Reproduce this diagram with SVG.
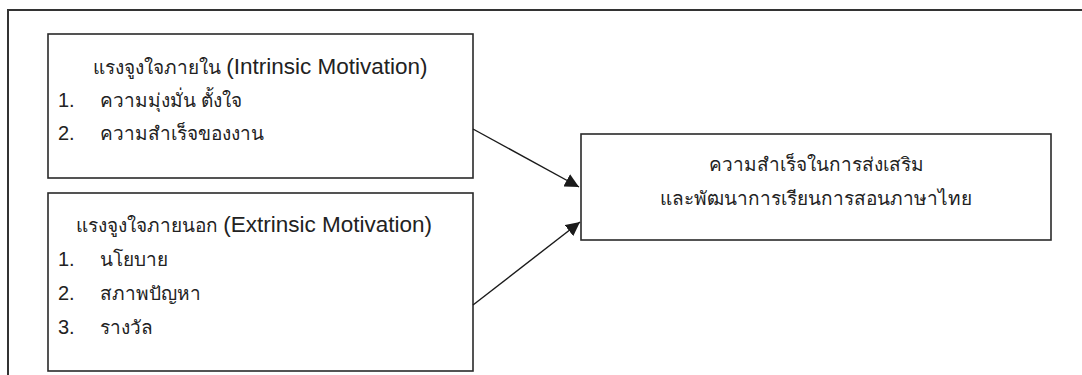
<svg xmlns="http://www.w3.org/2000/svg" width="1082" height="375" viewBox="0 0 1082 375">
<defs>
<style>
.box{fill:#fff;stroke:#2a2a2a;stroke-width:1.6}
.frame{fill:none;stroke:#333;stroke-width:2}
.t{font-family:"Liberation Sans","Noto Sans",sans-serif;font-size:19px;fill:#222}
.l{font-size:22.5px}
.n{font-size:20px}
.c{text-anchor:middle}
.con{stroke:#1a1a1a;stroke-width:1.4;fill:none}
</style>
<marker id="ah" viewBox="0 0 10 10" refX="10" refY="5" markerWidth="14" markerHeight="14" markerUnits="userSpaceOnUse" orient="auto">
<path d="M0,0 L10,5 L0,10 z" fill="#1a1a1a"/>
</marker>
</defs>
<rect width="1082" height="375" fill="#fff"/>
<path class="frame" d="M8,375 V10 H1082"/>
<g id="node-intrinsic">
<rect class="box" x="48" y="34" width="425" height="144"/>
<text class="t" x="93" y="74">แรงจูงใจภายใน <tspan class="l">(Intrinsic Motivation)</tspan></text>
<text class="t n" x="58" y="107">1.</text>
<text class="t" x="100" y="107">ความมุ่งมั่น ตั้งใจ</text>
<text class="t n" x="58" y="140">2.</text>
<text class="t" x="100" y="140">ความสำเร็จของงาน</text>
</g>
<g id="node-extrinsic">
<rect class="box" x="48" y="193" width="425" height="178"/>
<text class="t" x="76" y="232">แรงจูงใจภายนอก <tspan class="l">(Extrinsic Motivation)</tspan></text>
<text class="t n" x="58" y="266">1.</text>
<text class="t" x="100" y="266">นโยบาย</text>
<text class="t n" x="58" y="300">2.</text>
<text class="t" x="100" y="300">สภาพปัญหา</text>
<text class="t n" x="58" y="334">3.</text>
<text class="t" x="100" y="334">รางวัล</text>
</g>
<g id="node-success">
<rect class="box" x="581" y="134" width="470" height="106"/>
<text class="t c" x="816" y="171">ความสำเร็จในการส่งเสริม</text>
<text class="t c" x="816" y="205">และพัฒนาการเรียนการสอนภาษาไทย</text>
</g>
<g id="connectors">
<line class="con" x1="473" y1="129" x2="579" y2="187" marker-end="url(#ah)"/>
<line class="con" x1="473" y1="305" x2="580" y2="222" marker-end="url(#ah)"/>
</g>
</svg>
